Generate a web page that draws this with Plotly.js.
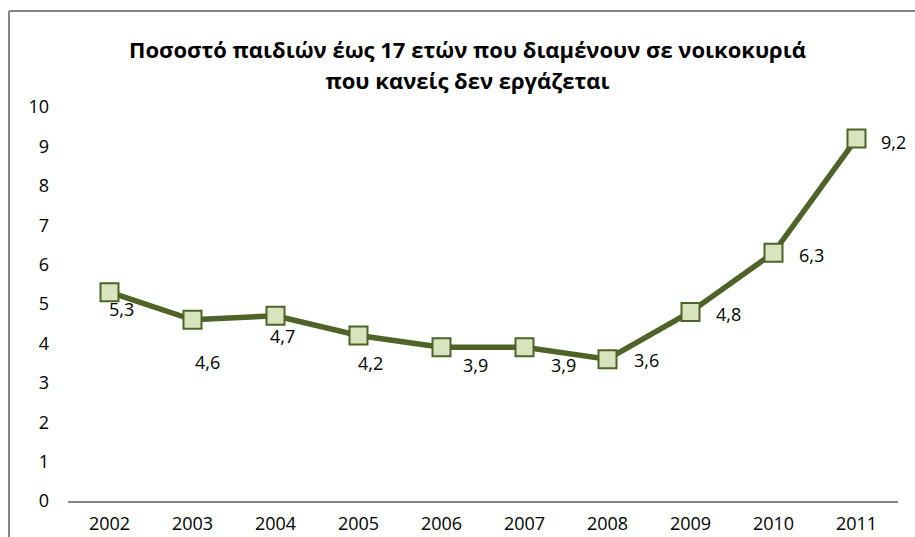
<!DOCTYPE html>
<html>
<head>
<meta charset="utf-8">
<script src="https://cdn.plot.ly/plotly-3.0.1.min.js"></script>
<style>
html,body{margin:0;padding:0;background:#fff;}
#chart{width:915px;height:537px;}
</style>
</head>
<body>
<div id="chart"></div>
<script>
// Data
var years = ["2002","2003","2004","2005","2006","2007","2008","2009","2010","2011"];
var values = [5.3, 4.6, 4.7, 4.2, 3.9, 3.9, 3.6, 4.8, 6.3, 9.2];
var labels = ["5,3","4,6","4,7","4,2","3,9","3,9","3,6","4,8","6,3","9,2"];
var yTicks = [0,1,2,3,4,5,6,7,8,9,10];
var titleLine1 = "Ποσοστό παιδιών έως 17 ετών που διαμένουν σε νοικοκυριά";
var titleLine2 = "που κανείς δεν εργάζεται";

// Label placement (pixel shifts), styling only
var labelShiftX = [11.5, 14.5, 6.5, 11.5, 33.5, 38.5, 38.5, 37.5, 37.5, 36.5];
var labelShiftY = [-17, -42, -20, -27.5, -18, -18, -1, -2, -2, -3];

var FONT = "Open Sans, Noto Sans, sans-serif";
var lineColor = "#4F6228";

var trace = {
  x: years,
  y: values,
  type: "scatter",
  mode: "lines+markers",
  line: {color: lineColor, width: 5.5},
  marker: {symbol: "square", size: 18, color: "#D7E4BD", line: {color: lineColor, width: 2}},
  hoverinfo: "skip"
};

// category axis: annotate by category index so numeric-looking names are not misread
var annotations = years.map(function(yr, i){
  return {
    x: i, y: values[i], xref: "x", yref: "y",
    text: labels[i], showarrow: false,
    xshift: labelShiftX[i], yshift: labelShiftY[i],
    font: {family: FONT, size: 18, color: "#000000"}
  };
});

var frameX = (9 - 68) / 830;
var frameY = (501 - 11) / 394;

var layout = {
  width: 915, height: 537,
  margin: {l: 68, r: 17, t: 107, b: 36, pad: 0},
  paper_bgcolor: "#ffffff",
  plot_bgcolor: "#ffffff",
  showlegend: false,
  font: {family: FONT, size: 18, color: "#000000"},
  title: {
    text: "<span style='font-size:22px'>" + titleLine1 + "</span><br><span style='font-size:22px'>" + titleLine2 + "</span>",
    font: {family: FONT, size: 24, color: "#000000", weight: "bold"},
    xref: "container", yref: "container",
    x: 467.5/915, xanchor: "center",
    y: 1 - 58/537, yanchor: "top"
  },
  xaxis: {
    type: "category",
    range: [-0.5, 9.5],
    showgrid: false, zeroline: false,
    showline: true, linecolor: "#868686", linewidth: 2,
    ticks: "", ticklabelstandoff: 5,
    tickfont: {family: FONT, size: 18, color: "#000000"},
    fixedrange: true
  },
  yaxis: {
    range: [0, 10],
    tickvals: yTicks,
    ticktext: yTicks.map(String),
    showgrid: false, zeroline: false, showline: false,
    ticks: "", ticklabelstandoff: 18,
    tickfont: {family: FONT, size: 18, color: "#000000"},
    fixedrange: true
  },
  annotations: annotations,
  shapes: [
    {type: "line", xref: "paper", yref: "paper", x0: frameX, x1: frameX, y0: -1, y1: frameY, line: {color: "#868686", width: 2}},
    {type: "line", xref: "paper", yref: "paper", x0: frameX, x1: 2, y0: frameY, y1: frameY, line: {color: "#868686", width: 2}}
  ]
};

Plotly.newPlot("chart", [trace], layout, {displayModeBar: false, staticPlot: true});
</script>
</body>
</html>
